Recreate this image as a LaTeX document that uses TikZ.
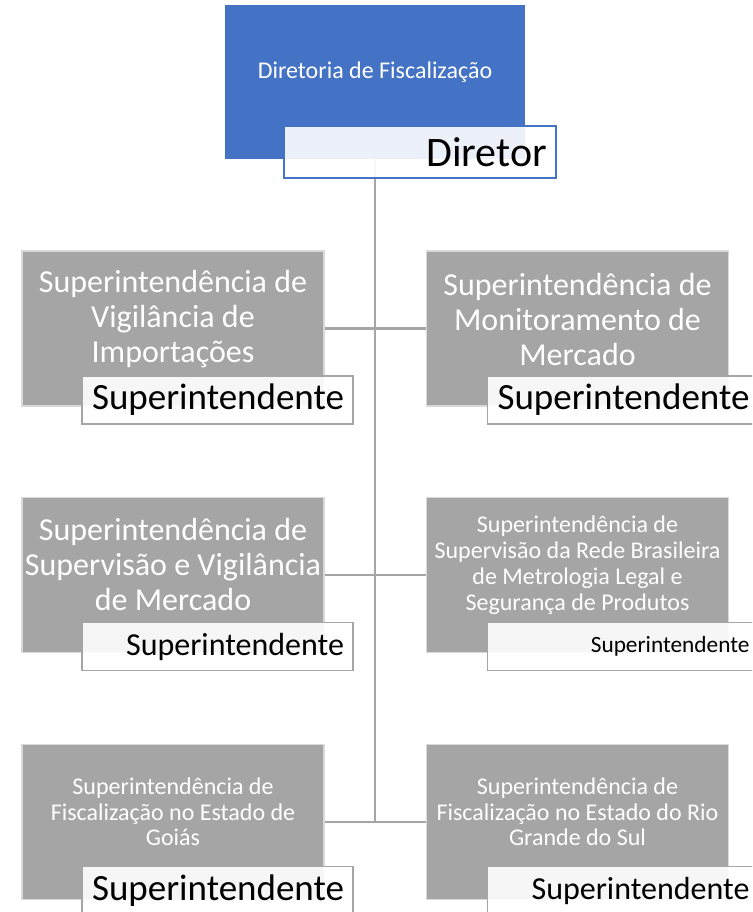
\documentclass[tikz,border=0pt]{standalone}
\usepackage{fontspec}
\setmainfont{Carlito}
\usetikzlibrary{positioning,backgrounds}

\definecolor{dirblue}{HTML}{4472C4}
\definecolor{boxgray}{HTML}{A5A5A5}
\definecolor{rimgray}{HTML}{D9D9D9}

\tikzset{
  unit/.style={draw=rimgray, line width=1.5pt, fill=boxgray,
    minimum width=302pt, minimum height=155pt, inner sep=0pt},
  unittext/.style={text=white, align=center, inner sep=0pt},
  role/.style={draw=boxgray, line width=1.5pt, fill=white, fill opacity=0.9,
    text opacity=1, minimum width=271pt, minimum height=48pt,
    text width=253pt, inner xsep=9pt, inner ysep=0pt, align=right,
    anchor=north west},
  link/.style={draw=boxgray, line width=2.8pt}
}

\begin{document}
\begin{tikzpicture}[x=1pt,y=-1pt]
\path[use as bounding box, clip] (0,0) rectangle (752,912);

% director
\node[unit, fill=dirblue, draw=dirblue, minimum width=298pt, minimum height=152pt] (dir) at (375,82) {};
\node[unittext, font=\fontsize{24}{28}\selectfont] (dirtext) at ([yshift=10pt]dir.center)
    {Diretoria de Fiscalização};
\node[role, draw=dirblue, minimum width=272pt, text width=254pt, minimum height=52pt,
    font=\fontsize{42}{45}\selectfont] (diretor) at ([shift={(58,120)}]dir.north west) {Diretor};

% row 1
\node[unit] (r1l) at (173,328.5) {};
\node[unittext, font=\fontsize{32}{35}\selectfont] (r1ltext) at ([yshift=9pt]r1l.center)
    {Superintendência de\\Vigilância de\\Importações};
\node[role, font=\fontsize{37}{40}\selectfont] (r1lrole) at ([shift={(60,125)}]r1l.north west) {Superintendente};

\node[unit] (r1r) at (577.5,328.5) {};
\node[unittext, font=\fontsize{32}{35}\selectfont] (r1rtext) at ([yshift=9pt]r1r.center)
    {Superintendência de\\Monitoramento de\\Mercado};
\node[role, font=\fontsize{37}{40}\selectfont] (r1rrole) at ([shift={(61,125)}]r1r.north west) {Superintendente};

% row 2
\node[unit] (r2l) at (173,575) {};
\node[unittext, font=\fontsize{32}{35}\selectfont] (r2ltext) at ([yshift=10pt]r2l.center)
    {Superintendência de\\Supervisão e Vigilância\\de Mercado};
\node[role, font=\fontsize{32}{34}\selectfont] (r2lrole) at ([shift={(60,125)}]r2l.north west) {Superintendente};

\node[unit] (r2r) at (577.5,575) {};
\node[unittext, font=\fontsize{24}{26}\selectfont] (r2rtext) at ([yshift=10pt]r2r.center)
    {Superintendência de\\Supervisão da Rede Brasileira\\de Metrologia Legal e\\Segurança de Produtos};
\node[role, font=\fontsize{23.3}{26}\selectfont] (r2rrole) at ([shift={(61,125)}]r2r.north west) {Superintendente};

% row 3
\node[unit] (r3l) at (173,822) {};
\node[unittext, font=\fontsize{24}{25.5}\selectfont] (r3ltext) at ([yshift=10pt]r3l.center)
    {Superintendência de\\Fiscalização no Estado de\\Goiás};
\node[role, font=\fontsize{37}{40}\selectfont] (r3lrole) at ([shift={(60,122)}]r3l.north west) {Superintendente};

\node[unit] (r3r) at (577.5,822) {};
\node[unittext, font=\fontsize{24}{25.5}\selectfont] (r3rtext) at ([yshift=10pt]r3r.center)
    {Superintendência de\\Fiscalização no Estado do Rio\\Grande do Sul};
\node[role, font=\fontsize{32}{34}\selectfont] (r3rrole) at ([shift={(61,122)}]r3r.north west) {Superintendente};

% connectors
\begin{scope}[on background layer]
\coordinate (trunkend) at (dir.center |- r3l.east);
\draw[link] (dir.center) -- (trunkend);
\draw[link] (r1l.east) -- (r1r.west);
\draw[link] (r2l.east) -- (r2r.west);
\draw[link] (r3l.east) -- (r3r.west);
\end{scope}
\end{tikzpicture}
\end{document}
